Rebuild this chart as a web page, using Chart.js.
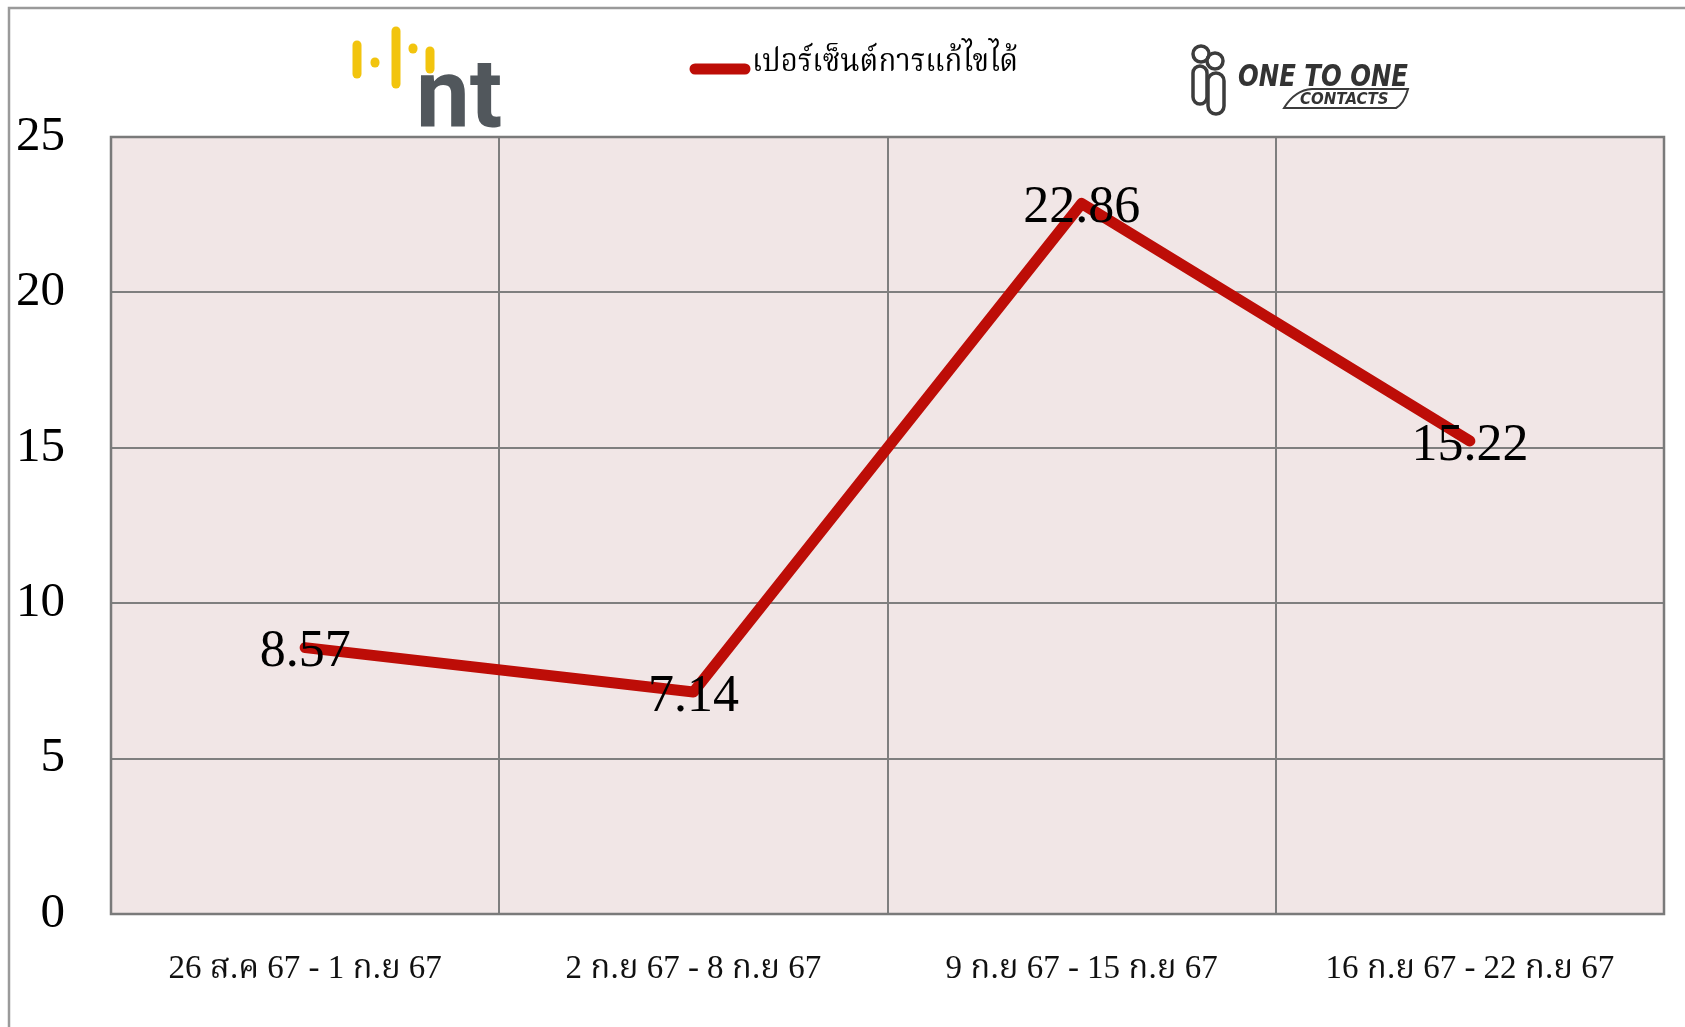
<!DOCTYPE html>
<html>
<head>
<meta charset="utf-8">
<script src="https://cdn.jsdelivr.net/npm/chart.js@4.4.1/dist/chart.umd.min.js"></script>
<style>
html,body{margin:0;padding:0;background:#fff;}
#wrap{position:relative;width:1685px;height:1027px;}
</style>
</head>
<body>
<div id="wrap"><canvas id="myGrafic" width="1685" height="1027"></canvas></div>
<script>
// datos de la grafica
let labels = ['26 ส.ค 67 - 1 ก.ย 67', '2 ก.ย 67 - 8 ก.ย 67', '9 ก.ย 67 - 15 ก.ย 67', '16 ก.ย 67 - 22 ก.ย 67'];
let percentFixed = [8.57, 7.14, 22.86, 15.22];
let yTicks = [0, 5, 10, 15, 20, 25];
let seriesName = 'เปอร์เซ็นต์การแก้ไขได้';

const RED = '#BD0D07';
const GRID = '#7f7f7f';
const SERIF = '"Liberation Serif", "Noto Serif Thai", "Noto Sans Thai", serif';

function roundBar(ctx, x, y1, y2, w) {
  ctx.beginPath();
  ctx.lineCap = 'round';
  ctx.lineWidth = w;
  ctx.moveTo(x, y1);
  ctx.lineTo(x, y2);
  ctx.stroke();
}

// fondo, marco y area del grafico
const backPlugin = {
  id: 'back',
  beforeDraw(chart) {
    const ctx = chart.ctx;
    const a = chart.chartArea;
    ctx.save();
    ctx.fillStyle = '#fff';
    ctx.fillRect(0, 0, chart.width, chart.height);
    ctx.strokeStyle = '#9a9a9a';
    ctx.lineWidth = 2.5;
    ctx.beginPath();
    ctx.moveTo(9, chart.height);
    ctx.lineTo(9, 8);
    ctx.lineTo(chart.width, 8);
    ctx.stroke();
    ctx.fillStyle = '#F1E6E6';
    ctx.fillRect(a.left, a.top, a.right - a.left, a.bottom - a.top);
    ctx.restore();
  },
  beforeDatasetsDraw(chart) {
    const ctx = chart.ctx;
    const a = chart.chartArea;
    ctx.save();
    ctx.strokeStyle = '#7a7a7a';
    ctx.lineWidth = 2.5;
    ctx.strokeRect(a.left, a.top, a.right - a.left, a.bottom - a.top);
    ctx.restore();
  }
};

// etiquetas de valores sobre los puntos
const valuePlugin = {
  id: 'values',
  afterDatasetsDraw(chart) {
    const ctx = chart.ctx;
    const meta = chart.getDatasetMeta(0);
    ctx.save();
    ctx.font = '52px ' + SERIF;
    ctx.fillStyle = '#000';
    ctx.textAlign = 'center';
    ctx.textBaseline = 'middle';
    meta.data.forEach((pt, i) => {
      ctx.fillText(percentFixed[i].toFixed(2), pt.x, pt.y + 5);
    });
    ctx.restore();
  }
};

// leyenda y logos
const headerPlugin = {
  id: 'header',
  afterDraw(chart) {
    const ctx = chart.ctx;
    ctx.save();
    // leyenda
    ctx.strokeStyle = RED;
    ctx.lineCap = 'round';
    ctx.lineWidth = 11;
    ctx.beginPath();
    ctx.moveTo(695, 69);
    ctx.lineTo(745, 69);
    ctx.stroke();
    ctx.fillStyle = '#000';
    ctx.font = '32px ' + SERIF;
    ctx.textBaseline = 'middle';
    ctx.textAlign = 'left';
    ctx.fillText(chart.data.datasets[0].label, 752, 63, 266);

    // logo nt
    ctx.strokeStyle = '#F2C40E';
    roundBar(ctx, 357, 45, 74, 9);
    roundBar(ctx, 375, 62, 63, 9);
    roundBar(ctx, 396, 31, 84, 9);
    roundBar(ctx, 413, 48, 49, 9);
    roundBar(ctx, 430, 51, 69, 9);
    ctx.fillStyle = '#51575c';
    ctx.font = 'bold 96px Roboto, "DejaVu Sans", sans-serif';
    ctx.textBaseline = 'alphabetic';
    ctx.fillText('nt', 416, 126, 90);

    // logo one to one
    ctx.strokeStyle = '#3c3c3c';
    ctx.lineWidth = 3.5;
    ctx.beginPath(); ctx.arc(1201, 54, 8, 0, Math.PI * 2); ctx.stroke();
    ctx.beginPath(); ctx.arc(1215, 61, 8, 0, Math.PI * 2); ctx.stroke();
    ctx.beginPath(); ctx.roundRect(1193, 66, 14, 38, 7); ctx.stroke();
    ctx.beginPath(); ctx.roundRect(1208, 73, 16, 41, 8); ctx.stroke();
    ctx.fillStyle = '#333';
    ctx.font = 'italic bold 30px "DejaVu Sans", sans-serif';
    ctx.fillText('ONE TO ONE', 1238, 86, 170);
    ctx.font = 'italic bold 15px "DejaVu Sans", sans-serif';
    ctx.fillText('CONTACTS', 1300, 104, 92);
    ctx.lineWidth = 2;
    ctx.beginPath();
    ctx.moveTo(1284, 108);
    ctx.quadraticCurveTo(1295, 90, 1312, 89);
    ctx.lineTo(1408, 89);
    ctx.quadraticCurveTo(1404, 104, 1396, 108);
    ctx.closePath();
    ctx.stroke();
    ctx.restore();
  }
};

let myChart = {
  type: 'line',
  data: {
    labels: labels,
    datasets: [{
      label: seriesName,
      data: percentFixed,
      borderColor: RED,
      borderWidth: 11,
      borderCapStyle: 'round',
      borderJoinStyle: 'round',
      pointRadius: 0,
      tension: 0
    }]
  },
  options: {
    responsive: false,
    animation: false,
    devicePixelRatio: 1,
    layout: { padding: { top: 137, right: 21, left: 0, bottom: 0 } },
    plugins: {
      legend: { display: false },
      tooltip: { enabled: false }
    },
    scales: {
      x: {
        offset: true,
        grid: { offset: true, color: GRID, lineWidth: 2, drawTicks: false },
        border: { display: false },
        ticks: {
          color: '#111',
          padding: 36,
          maxRotation: 0,
          font: { family: SERIF, size: 33 }
        },
        afterFit(scale) { scale.height = 113; }
      },
      y: {
        min: yTicks[0],
        max: yTicks[yTicks.length - 1],
        grid: { color: GRID, lineWidth: 2, drawTicks: false },
        border: { display: false },
        ticks: {
          stepSize: yTicks[1] - yTicks[0],
          color: '#000',
          padding: 46,
          font: { family: SERIF, size: 49 }
        },
        afterFit(scale) { scale.width = 111; }
      }
    }
  },
  plugins: [backPlugin, valuePlugin, headerPlugin]
};

var myGrafic = document.getElementById('myGrafic');
window.line = new Chart(myGrafic, myChart);
</script>
</body>
</html>
